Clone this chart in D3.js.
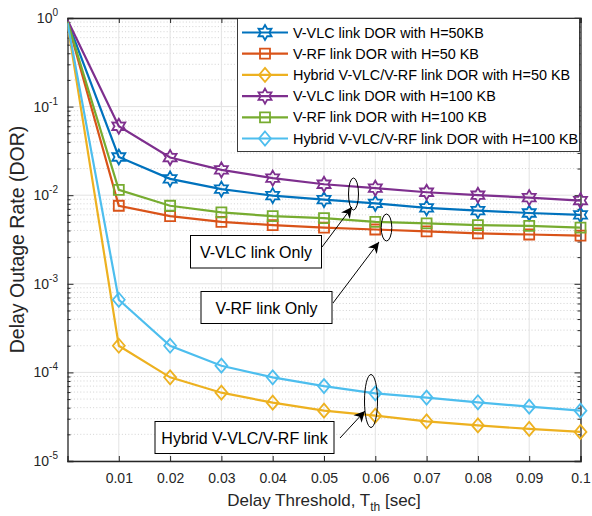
<!DOCTYPE html>
<html><head><meta charset="utf-8">
<script src="https://cdn.jsdelivr.net/npm/d3@7"></script>
<style>body{margin:0;background:#fff}svg{display:block;font-family:"Liberation Sans",Arial,Helvetica,sans-serif}</style>
</head><body><svg id="c" width="592" height="516"></svg>
<script>
// ---- data ----
const delays = [0, 0.01, 0.02, 0.03, 0.04, 0.05, 0.06, 0.07, 0.08, 0.09, 0.1];
const xTicks = [0.01, 0.02, 0.03, 0.04, 0.05, 0.06, 0.07, 0.08, 0.09, 0.1];
const xTickLabels = ["0.01","0.02","0.03","0.04","0.05","0.06","0.07","0.08","0.09","0.1"];
const yTickExps = [0, -1, -2, -3, -4, -5];
const seriesNames = [
  "V-VLC link DOR with H=50KB",
  "V-RF link DOR with H=50 KB",
  "Hybrid V-VLC/V-RF link DOR with H=50 KB",
  "V-VLC link DOR with H=100 KB",
  "V-RF link DOR with H=100 KB",
  "Hybrid V-VLC/V-RF link DOR with H=100 KB"
];
const vlc50  = [0.92, 0.027, 0.0153, 0.0117, 0.0099, 0.0089, 0.0081, 0.0072, 0.0067, 0.0063, 0.0060];
const rf50   = [0.90, 0.0076, 0.0058, 0.0050, 0.0046, 0.0043, 0.0041, 0.0039, 0.0037, 0.0036, 0.0035];
const hyb50  = [0.86, 2.0e-4, 8.8e-5, 5.9e-5, 4.55e-5, 3.7e-5, 3.25e-5, 2.8e-5, 2.52e-5, 2.3e-5, 2.13e-5];
const vlc100 = [0.95, 0.060, 0.0266, 0.0193, 0.0156, 0.0133, 0.0120, 0.0108, 0.0100, 0.0094, 0.0087];
const rf100  = [0.91, 0.0115, 0.0076, 0.0064, 0.0058, 0.0055, 0.0050, 0.0048, 0.0046, 0.0045, 0.0043];
const hyb100 = [0.88, 6.6e-4, 2.0e-4, 1.19e-4, 8.8e-5, 7.0e-5, 5.8e-5, 5.2e-5, 4.6e-5, 4.1e-5, 3.7e-5];
const seriesValues = [vlc50, rf50, hyb50, vlc100, rf100, hyb100];
const annotationTexts = ["V-VLC link Only", "V-RF link Only", "Hybrid V-VLC/V-RF link"];

// ---- styles / layout ----
const colors = ["#0072BD","#D95319","#EDB120","#7E2F8E","#77AC30","#4DBEEE"];
const markers = ["hexagram","square","diamond","hexagram","square","diamond"];
const L = 67.5, R = 580.5, T = 18, B = 461;
const svg = d3.select("#c");
const x = d3.scaleLinear().domain([0, 0.1]).range([L, R]);
const y = d3.scaleLog().domain([1e-5, 1]).range([B, T]);
const axisColor = "#262626";

// grids
const g = svg.append("g");
const minor = [];
for (let e = -5; e < 0; e++) for (let m = 2; m <= 9; m++) minor.push(m * Math.pow(10, e));
g.selectAll(".mg").data(minor).enter().append("line")
  .attr("x1", L).attr("x2", R).attr("y1", d => y(d)).attr("y2", d => y(d))
  .attr("stroke", "#c8c8c8").attr("stroke-width", 0.8).attr("stroke-dasharray", "1,2.2");
g.selectAll(".gx").data(xTicks).enter().append("line")
  .attr("x1", d => x(d)).attr("x2", d => x(d)).attr("y1", T).attr("y2", B)
  .attr("stroke", "#e3e3e3").attr("stroke-width", 1);
g.selectAll(".gy").data(yTickExps).enter().append("line")
  .attr("x1", L).attr("x2", R).attr("y1", d => y(Math.pow(10, d))).attr("y2", d => y(Math.pow(10, d)))
  .attr("stroke", "#e3e3e3").attr("stroke-width", 1);

// axes (box)
const axB = d3.axisBottom(x).tickValues(xTicks).tickSize(-5).tickFormat((d, i) => xTickLabels[i]).tickPadding(12);
const axT = d3.axisTop(x).tickValues(xTicks).tickSize(-5).tickFormat("");
const axLft = d3.axisLeft(y).tickValues(yTickExps.map(e => Math.pow(10, e))).tickSize(-6).tickFormat("");
const axRt = d3.axisRight(y).tickValues(yTickExps.map(e => Math.pow(10, e))).tickSize(-6).tickFormat("");
const axLm = d3.axisLeft(y).tickValues(minor).tickSize(-3).tickFormat("");
const axRm = d3.axisRight(y).tickValues(minor).tickSize(-3).tickFormat("");
function styleAx(sel) {
  sel.select(".domain").attr("stroke", axisColor).attr("stroke-width", 1.3);
  sel.selectAll(".tick line").attr("stroke", axisColor).attr("stroke-width", 1);
  sel.selectAll(".tick text").attr("fill", axisColor).attr("font-size", 14)
     .attr("font-family", '"Liberation Sans",Arial,sans-serif');
}
svg.append("g").attr("transform", `translate(0,${B})`).call(axB).call(styleAx);
svg.append("g").attr("transform", `translate(0,${T})`).call(axT).call(styleAx);
svg.append("g").attr("transform", `translate(${L},0)`).call(axLft).call(styleAx);
svg.append("g").attr("transform", `translate(${R},0)`).call(axRt).call(styleAx);
svg.append("g").attr("transform", `translate(${L},0)`).call(axLm).call(s => { styleAx(s); s.select(".domain").remove(); });
svg.append("g").attr("transform", `translate(${R},0)`).call(axRm).call(s => { styleAx(s); s.select(".domain").remove(); });

// y tick labels 10^k
yTickExps.forEach(e => {
  const t = svg.append("text").attr("x", 58).attr("y", y(Math.pow(10, e)) + 5)
    .attr("text-anchor", "end").attr("fill", axisColor).attr("font-size", 14);
  t.append("tspan").text("10");
  t.append("tspan").attr("dy", -7).attr("font-size", 10).text(String(e));
});

// axis labels
const xl = svg.append("text").attr("x", (L + R) / 2).attr("y", 506).attr("text-anchor", "middle")
  .attr("fill", axisColor).attr("font-size", 17);
xl.append("tspan").text("Delay Threshold, T");
xl.append("tspan").attr("dy", 5).attr("font-size", 12).text("th");
xl.append("tspan").attr("dy", -5).text(" [sec]");
svg.append("text").attr("transform", `translate(24,${(T + B) / 2}) rotate(-90)`)
  .attr("text-anchor", "middle").attr("fill", axisColor).attr("font-size", 19.5)
  .text("Delay Outage Rate (DOR)");

// marker paths
function markerPath(type) {
  if (type === "square") { const s = 5; return `M${-s},${-s}H${s}V${s}H${-s}Z`; }
  if (type === "diamond") { const s = 7; return `M0,${-s}L${s * 0.85},0L0,${s}L${-s * 0.85},0Z`; }
  const ro = 7.5, ri = 4.3; let p = "";
  for (let i = 0; i < 12; i++) {
    const a = -Math.PI / 2 + i * Math.PI / 6, r = i % 2 ? ri : ro;
    p += (i ? "L" : "M") + (r * Math.cos(a)).toFixed(2) + "," + (r * Math.sin(a)).toFixed(2);
  }
  return p + "Z";
}

// lines
svg.append("clipPath").attr("id", "pc").append("rect")
  .attr("x", L).attr("y", T).attr("width", R - L).attr("height", B - T);
const line = d3.line().x((d, i) => x(delays[i])).y(d => y(d));
const plot = svg.append("g");
seriesValues.forEach((vals, k) => {
  plot.append("path").datum(vals).attr("d", line).attr("fill", "none")
    .attr("stroke", colors[k]).attr("stroke-width", 2.2).attr("clip-path", "url(#pc)");
  plot.selectAll(".m" + k).data(vals.slice(1)).enter().append("path")
    .attr("transform", (d, i) => `translate(${x(delays[i + 1])},${y(d)})`)
    .attr("d", markerPath(markers[k])).attr("fill", "none")
    .attr("stroke", colors[k]).attr("stroke-width", 1.8);
});

// legend
const lg = svg.append("g");
lg.append("rect").attr("x", 237.5).attr("y", 18.5).attr("width", 342).attr("height", 133)
  .attr("fill", "#fff").attr("stroke", axisColor).attr("stroke-width", 0.9);
seriesNames.forEach((nm, k) => {
  const cy = 32.5 + k * 21.2;
  lg.append("line").attr("x1", 242).attr("x2", 288).attr("y1", cy).attr("y2", cy)
    .attr("stroke", colors[k]).attr("stroke-width", 2.2);
  lg.append("path").attr("transform", `translate(265,${cy})`).attr("d", markerPath(markers[k]))
    .attr("fill", "none").attr("stroke", colors[k]).attr("stroke-width", 1.8);
  lg.append("text").attr("x", 293).attr("y", cy + 5).attr("font-size", 14.4).attr("fill", "#000").text(nm);
});

// annotations (layout in pixels)
const annLayout = [
  { box: [190.5, 235.5, 131, 32.5], from: [322, 247], to: [352, 207], ell: [353.5, 194, 5, 16] },
  { box: [201, 291.5, 131, 32], from: [333, 303], to: [379, 242], ell: [386.5, 227.5, 5.3, 13.5] },
  { box: [155, 421.5, 179, 32], from: [340, 438], to: [365, 411], ell: [371, 401, 6.5, 26.5] }
];
svg.append("defs").append("marker").attr("id", "ah").attr("viewBox", "0 0 10 10")
  .attr("refX", 10).attr("refY", 5).attr("markerWidth", 14).attr("markerHeight", 11)
  .attr("markerUnits", "userSpaceOnUse").attr("orient", "auto")
  .append("path").attr("d", "M0,0L10,5L0,10L3,5Z").attr("fill", "#000");
annLayout.forEach((a, i) => {
  svg.append("ellipse").attr("cx", a.ell[0]).attr("cy", a.ell[1]).attr("rx", a.ell[2]).attr("ry", a.ell[3])
    .attr("fill", "none").attr("stroke", "#000").attr("stroke-width", 1);
  svg.append("line").attr("x1", a.from[0]).attr("y1", a.from[1]).attr("x2", a.to[0]).attr("y2", a.to[1])
    .attr("stroke", "#000").attr("stroke-width", 1).attr("marker-end", "url(#ah)");
  svg.append("rect").attr("x", a.box[0]).attr("y", a.box[1]).attr("width", a.box[2]).attr("height", a.box[3])
    .attr("fill", "#fff").attr("stroke", "#000").attr("stroke-width", 1);
  svg.append("text").attr("x", a.box[0] + a.box[2] / 2).attr("y", a.box[1] + a.box[3] / 2 + 6)
    .attr("text-anchor", "middle").attr("font-size", 16).attr("fill", "#000").text(annotationTexts[i]);
});
</script></body></html>
